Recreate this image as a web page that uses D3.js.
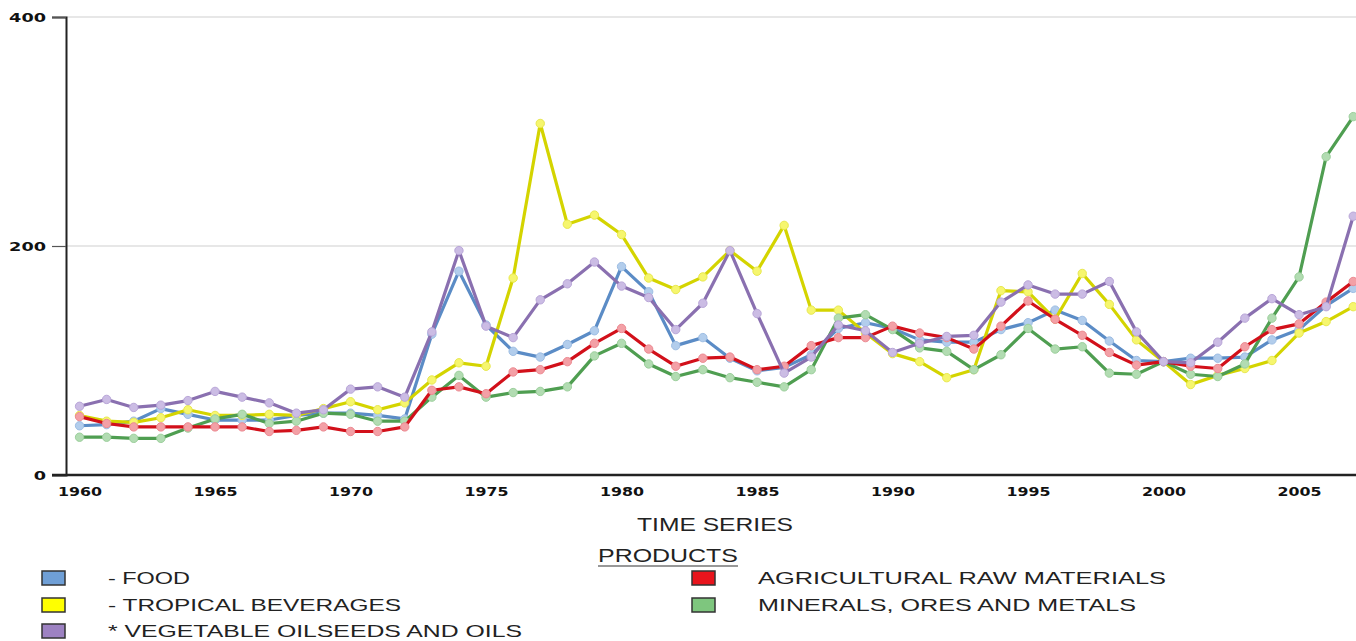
<!DOCTYPE html>
<html>
<head>
<meta charset="utf-8">
<script src="https://cdn.jsdelivr.net/npm/d3@7/dist/d3.min.js"></script>
<style>
  html, body { margin: 0; padding: 0; background: #fff; overflow: hidden; }
  svg { display: block; }
</style>
</head>
<body>
<svg id="chart" width="1356" height="641"></svg>
<script>
const years = d3.range(1960, 2008);
const yTicks = [0, 200, 400];
const xTickYears = [1960, 1965, 1970, 1975, 1980, 1985, 1990, 1995, 2000, 2005];

const food = [43,44,47,58,53,48,48,48,52,54, 54,52,49,123,178,131,108,103,114,126,
  182,160,113,120,102,91,94,105,128,133, 128,118,116,116,127,133,144,135,117,100,
  99,102,102,103,118,127,148,163];
const tropicalBeverages = [52,47,46,50,57,52,52,53,52,58, 64,57,63,83,98,95,172,307,219,227,
  210,172,162,173,196,178,218,144,144,124, 106,99,85,92,161,160,136,176,149,118,
  99,79,87,93,100,124,134,147];
const vegetableOilseeds = [60,66,59,61,65,73,68,63,54,57, 75,77,68,125,196,130,120,153,167,186,
  165,155,127,150,196,141,89,103,131,126, 107,115,121,122,151,166,158,158,169,125,
  99,98,116,137,154,140,147,226];
const agriculturalRaw = [51,45,42,42,42,42,42,38,39,42, 38,38,42,74,77,71,90,92,99,115,
  128,110,95,102,103,92,95,113,120,120, 130,124,120,110,130,152,136,122,107,96,
  99,95,93,112,127,132,151,169];
const minerals = [33,33,32,32,41,49,53,45,47,54, 53,47,47,68,87,68,72,73,77,104,
  115,97,86,92,85,81,77,92,137,140, 127,111,108,92,105,128,110,112,89,88,
  99,88,86,97,137,173,278,313];

const seriesNames = ["- FOOD", "- TROPICAL BEVERAGES", "* VEGETABLE OILSEEDS AND OILS",
  "AGRICULTURAL RAW MATERIALS", "MINERALS, ORES AND METALS"];
const lineColors = ["#5b8cc6", "#d4d400", "#8a70b0", "#d2101a", "#4f9e51"];
const markerColors = ["#b2cdec", "#f6f66e", "#cbbce4", "#f3a0a6", "#b2dcb2"];
const markerStroke = ["#9dbde3", "#e8e850", "#b9a6d8", "#ec8a92", "#9ccf9c"];
const swatchColors = ["#6f9fd6", "#ffff00", "#9d82c2", "#e8141c", "#7ec67e"];

const series = [food, tropicalBeverages, vegetableOilseeds, agriculturalRaw, minerals];
const drawOrder = [0, 1, 4, 3, 2];

const svg = d3.select("#chart");
const x = d3.scaleLinear().domain([1959.5, 2007.5]).range([66, 1366.8]);
const y = d3.scaleLinear().domain([0, 400]).range([475, 17]);

// gridlines
svg.append("g").selectAll("line").data(yTicks.filter(d => d > 0)).join("line")
  .attr("x1", 66).attr("x2", 1356)
  .attr("y1", d => y(d)).attr("y2", d => y(d))
  .attr("stroke", "#d0d0d0").attr("stroke-width", 1.2);

// y axis
const yAxis = d3.axisLeft(y).tickValues(yTicks).tickSize(14).tickFormat(d3.format("d"));
const gy = svg.append("g").attr("transform", "translate(66,0)").call(yAxis);
gy.select(".domain").attr("stroke", "#222").attr("stroke-width", 2);
gy.selectAll(".tick line").attr("stroke", "#555").attr("stroke-width", 1.2);
gy.selectAll(".tick text")
  .attr("x", -20).attr("dy", "0.36em")
  .attr("font-family", "DejaVu Sans, Verdana, sans-serif")
  .attr("font-size", 12).attr("font-weight", "bold").attr("fill", "#111")
  .attr("textLength", d => String(d).length * 12.3).attr("lengthAdjust", "spacingAndGlyphs");

// x axis
const xAxis = d3.axisBottom(x).tickValues(xTickYears).tickSize(0).tickFormat(d3.format("d"));
const gx = svg.append("g").attr("transform", "translate(0,475)").call(xAxis);
gx.select(".domain").attr("stroke", "#222").attr("stroke-width", 2.4)
  .attr("d", "M52,0H1356");
gx.selectAll(".tick text")
  .attr("y", 12).attr("dy", "0.71em")
  .attr("font-family", "DejaVu Sans, Verdana, sans-serif")
  .attr("font-size", 12).attr("font-weight", "bold").attr("fill", "#111")
  .attr("textLength", 44).attr("lengthAdjust", "spacingAndGlyphs");

// lines + markers
const line = d3.line().x((d, i) => x(years[i])).y(d => y(d));
const plot = svg.append("g");
drawOrder.forEach(k => {
  const g = plot.append("g");
  g.append("path").datum(series[k])
    .attr("d", line).attr("fill", "none")
    .attr("stroke", lineColors[k]).attr("stroke-width", 3.2)
    .attr("stroke-linejoin", "round");
  g.selectAll("circle").data(series[k]).join("circle")
    .attr("cx", (d, i) => x(years[i])).attr("cy", d => y(d)).attr("r", 4.2)
    .attr("fill", markerColors[k]).attr("stroke", markerStroke[k])
    .attr("stroke-width", 1);
});

// axis title
const txtFont = "Liberation Sans, Arial, sans-serif";
svg.append("text").attr("x", 637).attr("y", 531)
  .attr("font-family", txtFont).attr("font-size", 18).attr("fill", "#222")
  .attr("textLength", 156).attr("lengthAdjust", "spacingAndGlyphs")
  .text("TIME SERIES");

// legend title
svg.append("text").attr("x", 598).attr("y", 562)
  .attr("font-family", txtFont).attr("font-size", 18).attr("fill", "#222")
  .attr("textLength", 140).attr("lengthAdjust", "spacingAndGlyphs")
  .text("PRODUCTS");
svg.append("line").attr("x1", 598).attr("x2", 738).attr("y1", 566).attr("y2", 566)
  .attr("stroke", "#333").attr("stroke-width", 1.2);

// legend
const legendPos = [
  {sx: 42, tx: 108, y: 571, w: 82},
  {sx: 42, tx: 108, y: 598, w: 293},
  {sx: 42, tx: 108, y: 624, w: 414},
  {sx: 692, tx: 758, y: 571, w: 408},
  {sx: 692, tx: 758, y: 598, w: 378}
];
const leg = svg.append("g").selectAll("g").data(seriesNames).join("g");
leg.append("rect")
  .attr("x", (d, i) => legendPos[i].sx).attr("y", (d, i) => legendPos[i].y)
  .attr("width", 23).attr("height", 14)
  .attr("fill", (d, i) => swatchColors[i]).attr("stroke", "#333").attr("stroke-width", 1.5);
leg.append("text")
  .attr("x", (d, i) => legendPos[i].tx).attr("y", (d, i) => legendPos[i].y + 13)
  .attr("font-family", txtFont).attr("font-size", 17).attr("fill", "#222")
  .attr("textLength", (d, i) => legendPos[i].w).attr("lengthAdjust", "spacingAndGlyphs")
  .text(d => d);
</script>
</body>
</html>
